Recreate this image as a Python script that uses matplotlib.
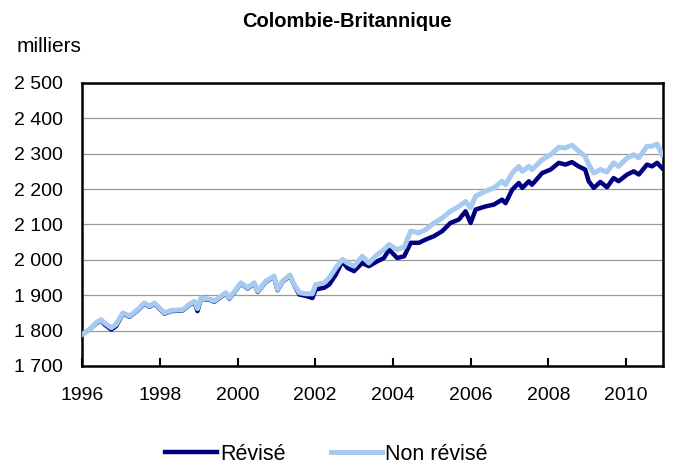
import matplotlib.pyplot as plt
from matplotlib.ticker import FuncFormatter, MultipleLocator

plt.rcParams['font.family'] = ['Liberation Sans', 'DejaVu Sans']

# Revise (dark) series: decimal year, thousands
rev_x = [1996.0, 1996.19, 1996.36, 1996.49, 1996.57, 1996.75, 1996.87, 1997.05, 1997.22,
         1997.43, 1997.6, 1997.73, 1997.86, 1998.12, 1998.29, 1998.59, 1998.76, 1998.89,
         1998.97, 1999.06, 1999.32, 1999.4, 1999.7, 1999.79, 2000.09, 2000.26, 2000.43,
         2000.52, 2000.73, 2000.94, 2001.03, 2001.16, 2001.35, 2001.46, 2001.59, 2001.76,
         2001.93, 2002.01, 2002.23, 2002.36, 2002.53, 2002.7, 2002.83, 2003.0, 2003.21,
         2003.38, 2003.6, 2003.77, 2003.9, 2004.11, 2004.29, 2004.46, 2004.67, 2004.84,
         2005.06, 2005.27, 2005.48, 2005.7, 2005.87, 2006.0, 2006.13, 2006.39, 2006.6,
         2006.81, 2006.9, 2007.07, 2007.24, 2007.33, 2007.5, 2007.58, 2007.84, 2008.06,
         2008.27, 2008.44, 2008.61, 2008.78, 2008.95, 2009.04, 2009.17, 2009.34, 2009.51,
         2009.68, 2009.81, 2010.03, 2010.2, 2010.33, 2010.54, 2010.67, 2010.8, 2010.93]
rev_y = [1789, 1803, 1820, 1829, 1818, 1803, 1812, 1848, 1839,
         1857, 1876, 1867, 1876, 1848, 1855, 1857, 1872, 1881,
         1855, 1890, 1886, 1881, 1905, 1890, 1933, 1919, 1933,
         1909, 1938, 1952, 1914, 1938, 1955, 1928, 1902, 1898,
         1892, 1916, 1921, 1930, 1958, 1996, 1977, 1968, 1991,
         1982, 1996, 2005, 2029, 2005, 2010, 2048, 2048, 2057,
         2067, 2081, 2104, 2114, 2137, 2104, 2142, 2151, 2156,
         2170, 2160, 2198, 2217, 2203, 2222, 2212, 2245, 2255,
         2274, 2269, 2276, 2264, 2255, 2222, 2203, 2220, 2205,
         2231, 2222, 2241, 2250, 2241, 2269, 2264, 2274, 2259]

# Non revise (light) series
nonrev_x = [1996.0, 1996.19, 1996.36, 1996.49, 1996.57, 1996.75, 1996.87, 1997.05, 1997.22,
            1997.43, 1997.6, 1997.73, 1997.86, 1998.12, 1998.29, 1998.59, 1998.76, 1998.89,
            1998.97, 1999.06, 1999.32, 1999.4, 1999.7, 1999.79, 2000.09, 2000.26, 2000.43,
            2000.52, 2000.73, 2000.94, 2001.03, 2001.16, 2001.35, 2001.46, 2001.59, 2001.76,
            2001.93, 2002.01, 2002.23, 2002.36, 2002.53, 2002.7, 2002.83, 2003.0, 2003.21,
            2003.38, 2003.6, 2003.77, 2003.9, 2004.11, 2004.29, 2004.46, 2004.67, 2004.84,
            2005.06, 2005.27, 2005.48, 2005.7, 2005.87, 2006.0, 2006.13, 2006.39, 2006.6,
            2006.81, 2006.9, 2007.07, 2007.24, 2007.33, 2007.5, 2007.58, 2007.84, 2008.06,
            2008.27, 2008.44, 2008.61, 2008.78, 2008.95, 2009.04, 2009.17, 2009.34, 2009.51,
            2009.68, 2009.81, 2010.03, 2010.2, 2010.33, 2010.54, 2010.67, 2010.8, 2010.93]
nonrev_y = [1789, 1803, 1822, 1831, 1822, 1808, 1817, 1850, 1841,
            1859, 1878, 1869, 1878, 1850, 1857, 1859, 1874, 1883,
            1862, 1892, 1888, 1883, 1907, 1892, 1935, 1921, 1935,
            1911, 1940, 1954, 1916, 1940, 1957, 1930, 1907, 1904,
            1904, 1930, 1935, 1949, 1977, 2001, 1991, 1982, 2010,
            1991, 2015, 2029, 2043, 2029, 2036, 2081, 2076, 2085,
            2104, 2118, 2137, 2151, 2165, 2147, 2180, 2194, 2203,
            2222, 2212, 2245, 2264, 2250, 2264, 2255, 2283, 2297,
            2318, 2316, 2324, 2307, 2292, 2269, 2245, 2255, 2248,
            2274, 2264, 2288, 2297, 2288, 2321, 2321, 2327, 2297]

years = list(range(1996, 2011, 2))

fig = plt.figure(figsize=(6.73, 4.68), dpi=100)
ax = fig.add_axes([0.122, 0.218, 0.863, 0.605])

ax.plot(rev_x, rev_y, color='#000080', lw=3.2, label='Révisé', zorder=3)
ax.plot(nonrev_x, nonrev_y, color='#A6CAF0', lw=3.6, label='Non révisé', zorder=4)

ax.set_xlim(1996, 2010.95)
ax.set_ylim(1700, 2500)
ax.yaxis.set_major_locator(MultipleLocator(100))
ax.yaxis.set_major_formatter(FuncFormatter(lambda v, p: f'{int(v):,}'.replace(',', ' ')))
ax.set_xticks(years)
ax.set_xticklabels([str(y) for y in years])
ax.tick_params(axis='x', direction='in', length=6, width=1.5, pad=15, labelsize=14)
ax.tick_params(axis='y', length=0, pad=14, labelsize=14)
ax.grid(axis='y', color='#999999', lw=0.9)
ax.set_axisbelow(True)
for s in ax.spines.values():
    s.set_linewidth(1.8)

fig.text(0.516, 0.955, 'Colombie-Britannique', ha='center', va='center',
         fontsize=14.5, fontweight='bold')
fig.text(0.024, 0.9, 'milliers', ha='left', va='center', fontsize=15)

fig.legend(loc='lower center', bbox_to_anchor=(0.485, -0.035), ncol=2, frameon=False,
           fontsize=15.5, handlelength=2.4, columnspacing=2.1, handletextpad=0.15)

fig.savefig('out.png', dpi=100)
